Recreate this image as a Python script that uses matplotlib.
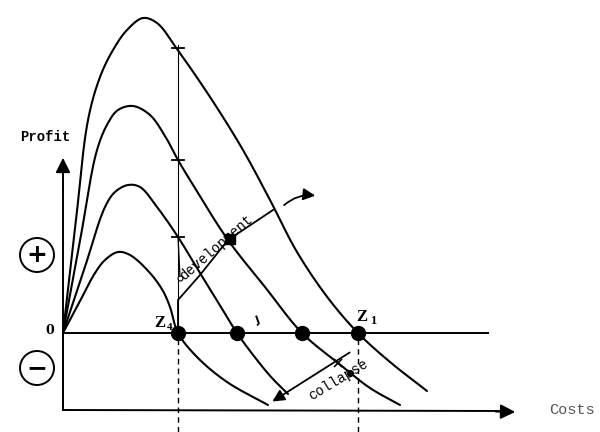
import numpy as np
import matplotlib
matplotlib.use('Agg')
import matplotlib.pyplot as plt
from matplotlib.patches import Circle

# profit curves (cost, profit), origin at the "0" point
a_cost = [0, 16, 32, 42, 55, 67, 87, 100, 107, 115, 134, 164, 205]
a_prof = [0, 30, 60, 73, 81, 78, 60, 42, 26, 0, -24, -49, -72]

b_cost = [0, 21, 42, 52, 65, 77, 94, 115, 137, 155, 174, 194, 209, 225]
b_prof = [0, 63, 126, 141, 148, 146, 126, 96, 60, 31, 0, -27, -45, -61]

c_cost = [0, 17, 34, 45, 55, 70, 87, 102, 115, 127, 165, 202, 239, 275, 307, 337]
c_prof = [0, 92, 183, 210, 223, 227, 218, 197, 173, 153, 93, 46, 0, -30, -55, -72]

d_cost = [0, 13, 25, 37, 50, 64, 80, 94, 114, 149, 180, 207, 234, 265, 295, 327, 364]
d_prof = [0, 113, 213, 256, 283, 303, 315, 310, 284, 233, 183, 133, 81, 35, 0, -29, -58]

# break-even points Z4 .. Z1
z_cost = [115, 174, 239, 295]
# ticks on the vertical line
tick_prof = [285, 173, 96]

dev_cost = [115, 115, 137, 165, 210]
dev_prof = [0, 33, 58, 93, 123]


def smooth(xs, ys, n=14, alpha=0.5):
    # centripetal Catmull-Rom through the read points
    p = np.column_stack([xs, ys]).astype(float)
    p = np.vstack([2 * p[0] - p[1], p, 2 * p[-1] - p[-2]])
    out = []
    for i in range(1, len(p) - 2):
        p0, p1, p2, p3 = p[i - 1], p[i], p[i + 1], p[i + 2]
        t0 = 0.0
        t1 = t0 + np.linalg.norm(p1 - p0) ** alpha
        t2 = t1 + np.linalg.norm(p2 - p1) ** alpha
        t3 = t2 + np.linalg.norm(p3 - p2) ** alpha
        t = np.linspace(t1, t2, n, endpoint=False)[:, None]
        a1 = (t1 - t) / (t1 - t0) * p0 + (t - t0) / (t1 - t0) * p1
        a2 = (t2 - t) / (t2 - t1) * p1 + (t - t1) / (t2 - t1) * p2
        a3 = (t3 - t) / (t3 - t2) * p2 + (t - t2) / (t3 - t2) * p3
        b1 = (t2 - t) / (t2 - t0) * a1 + (t - t0) / (t2 - t0) * a2
        b2 = (t3 - t) / (t3 - t1) * a2 + (t - t1) / (t3 - t1) * a3
        out.append((t2 - t) / (t2 - t1) * b1 + (t - t1) / (t2 - t1) * b2)
    out.append(p[-2][None, :])
    out = np.vstack(out)
    return out[:, 0], out[:, 1]


fig = plt.figure(figsize=(6, 4.32), dpi=100)
ax = fig.add_axes([0, 0, 1, 1])
ax.set_xlim(-63, 537)
ax.set_ylim(-99, 333)
ax.axis('off')

k = dict(color='black', lw=1.5, solid_capstyle='round')
for xs, ys in [(a_cost, a_prof), (b_cost, b_prof), (c_cost, c_prof), (d_cost, d_prof)]:
    sx, sy = smooth(xs, ys)
    ax.plot(sx, sy, **k)

# axes
ax.plot([0, 425], [0, 0], color='black', lw=1.4)
ax.plot([0, 0], [-77, 150], color='black', lw=1.4)
ax.annotate('', xy=(0, 178), xytext=(0, 140),
            arrowprops=dict(arrowstyle='-|>', color='black', lw=1.4, mutation_scale=22))
ax.plot([0, 0, 440], [0, -77, -78], color='black', lw=1.4)
ax.annotate('', xy=(455, -79), xytext=(430, -78.5),
            arrowprops=dict(arrowstyle='-|>', color='black', lw=1.4, mutation_scale=22))

# vertical guide lines
ax.plot([115, 115], [0, 288], color='black', lw=0.8)
ax.plot([115, 115], [-99, -5], color='black', lw=1.0, ls=(0, (4, 3)))
ax.plot([295, 295], [-99, -5], color='black', lw=1.0, ls=(0, (4, 3)))
for tp in tick_prof:
    ax.plot([109, 121], [tp, tp], color='black', lw=1.3)

# development arrow
ax.plot(dev_cost, dev_prof, color='black', lw=1.3)
ax.plot([115, 117], [96, 56], color='black', lw=0.9)
ax.plot([117], [55], 'o', ms=3.5, mfc='white', mec='black', mew=0.8)
ax.annotate('', xy=(255, 137), xytext=(219, 126),
            arrowprops=dict(arrowstyle='-|>', color='black', lw=1.3, mutation_scale=18,
                            connectionstyle='arc3,rad=-0.25'))
ax.plot([167], [94], 's', color='black', ms=7)
ax.text(153, 86, 'development', rotation=41, rotation_mode='anchor', ha='center', va='center',
        family='Liberation Mono', fontsize=10)

# collapse arrow
ax.annotate('', xy=(207, -70), xytext=(289, -18),
            arrowprops=dict(arrowstyle='-|>', color='black', lw=1.3, mutation_scale=18))
ax.plot([275], [-30], 'x', color='black', ms=6, mew=1.2)
ax.plot([287], [-40], 'o', color='black', ms=4)
ax.text(275, -47, 'collapse', rotation=31, rotation_mode='anchor', ha='center', va='center',
        family='Liberation Mono', fontsize=10)

# break-even dots
ax.plot(z_cost, [0] * len(z_cost), 'o', color='black', ms=10)
ax.text(-13, 2, '0', fontsize=9, fontweight='bold', family='DejaVu Serif', ha='center', va='center')
ax.text(97, 10, 'Z', fontsize=12, fontweight='bold', family='Liberation Serif', ha='center', va='center')
ax.text(107, 5, '4', fontsize=8, fontweight='bold', family='Liberation Serif', ha='center', va='center')
ax.text(299, 16, 'Z', fontsize=12, fontweight='bold', family='Liberation Serif', ha='center', va='center')
ax.text(310, 12, '1', fontsize=9, fontweight='bold', family='Liberation Serif', ha='center', va='center')
ax.text(195, 12, 'J', fontsize=8, fontweight='bold', rotation=20, ha='center', va='center')

# axis labels
ax.text(-18, 196, 'Profit', family='Liberation Mono', fontsize=10, fontweight='bold',
        ha='center', va='center')
ax.text(509, -77, 'Costs', family='Liberation Mono', fontsize=11, color='#555555',
        ha='center', va='center')

# circled signs
for cy, s in [(78, '+'), (-35, '\u2212')]:
    ax.add_patch(Circle((-26, cy), 17, fill=False, ec='black', lw=1.4))
    ax.text(-26, cy, s, fontsize=18, fontweight='bold', ha='center', va='center')

fig.savefig('out.png', dpi=100)
